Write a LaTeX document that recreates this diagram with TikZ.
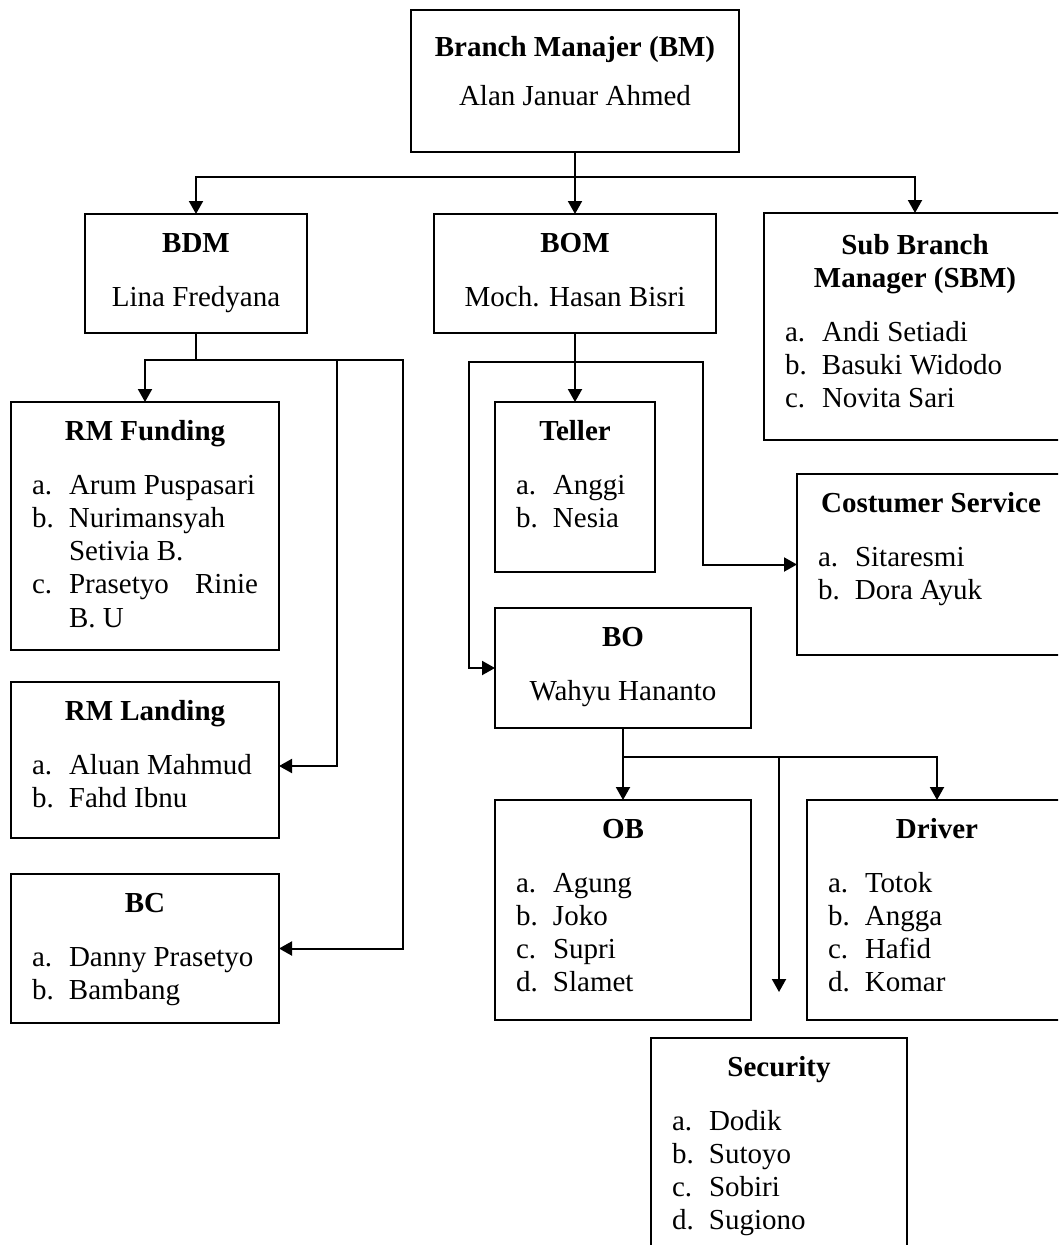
\documentclass[tikz,border=0pt]{standalone}
\usepackage{fontspec}
\setmainfont{Liberation Serif}
\usetikzlibrary{arrows.meta,positioning}

\newcommand{\boxhead}[1]{\makebox[\linewidth]{\bfseries #1}}
\newcommand{\listgap}{\par\vspace{20.7pt}}
\newcommand{\staffrow}[2]{\par\hangindent=37pt\hangafter=1\noindent\makebox[37pt][l]{#1}#2\par}
\tolerance=10000
\hbadness=10000
\hyphenpenalty=10000

\begin{document}
\begin{tikzpicture}[x=1pt,y=-1pt,font=\fontsize{29}{33.3}\selectfont]
  \tikzstyle{unit}=[draw,line width=2pt,inner sep=0pt,outer sep=0pt,anchor=north west]
  \tikzstyle{txt}=[anchor=base,inner sep=0pt,align=justify]
  \tikzstyle{link}=[-{Triangle[length=13pt,width=14pt]},line width=2pt]

  \useasboundingbox (0,0) rectangle (1058,1245);
  \clip (0,0) rectangle (1058,1245);

  % -- Branch manager --
  \node[unit,minimum width=328pt,minimum height=142pt] (bm) at (411,10) {};
  \node[txt,text width=286pt] (bmtxt) at ([yshift=-46pt]bm.north)
    {\boxhead{Branch Manajer (BM)}\par\vspace{15.7pt}\makebox[\linewidth]{Alan Januar Ahmed}};

  % -- Second level: BDM, BOM, SBM --
  \node[unit,minimum width=222pt,minimum height=119pt] (bdm) at (85,214) {};
  \node[txt,text width=180pt] (bdmtxt) at ([yshift=-38pt]bdm.north)
    {\boxhead{BDM}\listgap\makebox[\linewidth]{Lina Fredyana}};
  \node[unit,minimum width=282pt,minimum height=119pt] (bom) at (434,214) {};
  \node[txt,text width=240pt] (bomtxt) at ([yshift=-38pt]bom.north)
    {\boxhead{BOM}\listgap\makebox[\linewidth]{Moch. Hasan Bisri}};
  \node[unit,minimum width=302pt,minimum height=227pt] (sbm) at (764,213) {};
  \node[txt,text width=260pt] (sbmtxt) at ([yshift=-41pt]sbm.north)
    {\boxhead{Sub Branch}\par\boxhead{Manager (SBM)}\listgap
     \staffrow{a.}{Andi Setiadi}\staffrow{b.}{Basuki Widodo}\staffrow{c.}{Novita Sari}};

  % -- Under BDM --
  \node[unit,minimum width=268pt,minimum height=248pt] (rmf) at (11,402) {};
  \node[txt,text width=226pt] (rmftxt) at ([yshift=-38pt]rmf.north)
    {\boxhead{RM Funding}\listgap
     \staffrow{a.}{Arum Puspasari}\staffrow{b.}{Nurimansyah\newline Setivia B.}\staffrow{c.}{Prasetyo Rinie\linebreak B. U}};
  \node[unit,minimum width=268pt,minimum height=156pt] (rml) at (11,682) {};
  \node[txt,text width=226pt] (rmltxt) at ([yshift=-38pt]rml.north)
    {\boxhead{RM Landing}\listgap\staffrow{a.}{Aluan Mahmud}\staffrow{b.}{Fahd Ibnu}};
  \node[unit,minimum width=268pt,minimum height=149pt] (bc) at (11,874) {};
  \node[txt,text width=226pt] (bctxt) at ([yshift=-38pt]bc.north)
    {\boxhead{BC}\listgap\staffrow{a.}{Danny Prasetyo}\staffrow{b.}{Bambang}};

  % -- Under BOM --
  \node[unit,minimum width=160pt,minimum height=170pt] (teller) at (495,402) {};
  \node[txt,text width=118pt] (tellertxt) at ([yshift=-38pt]teller.north)
    {\boxhead{Teller}\listgap\staffrow{a.}{Anggi}\staffrow{b.}{Nesia}};
  \node[unit,minimum width=268pt,minimum height=181pt] (cs) at (797,474) {};
  \node[txt,text width=226pt] (cstxt) at ([yshift=-38pt]cs.north)
    {\boxhead{Costumer Service}\listgap\staffrow{a.}{Sitaresmi}\staffrow{b.}{Dora Ayuk}};
  \node[unit,minimum width=256pt,minimum height=120pt] (bo) at (495,608) {};
  \node[txt,text width=214pt] (botxt) at ([yshift=-38pt]bo.north)
    {\boxhead{BO}\listgap\makebox[\linewidth]{Wahyu Hananto}};

  % -- Under BO --
  \node[unit,minimum width=256pt,minimum height=220pt] (ob) at (495,800) {};
  \node[txt,text width=214pt] (obtxt) at ([yshift=-38pt]ob.north)
    {\boxhead{OB}\listgap\staffrow{a.}{Agung}\staffrow{b.}{Joko}\staffrow{c.}{Supri}\staffrow{d.}{Slamet}};
  \node[unit,minimum width=260pt,minimum height=220pt] (drv) at (807,800) {};
  \node[txt,text width=218pt] (drvtxt) at ([yshift=-38pt]drv.north)
    {\boxhead{Driver}\listgap\staffrow{a.}{Totok}\staffrow{b.}{Angga}\staffrow{c.}{Hafid}\staffrow{d.}{Komar}};
  \node[unit,minimum width=256pt,minimum height=227pt] (sec) at (651,1038) {};
  \node[txt,text width=214pt] (sectxt) at ([yshift=-38pt]sec.north)
    {\boxhead{Security}\listgap\staffrow{a.}{Dodik}\staffrow{b.}{Sutoyo}\staffrow{c.}{Sobiri}\staffrow{d.}{Sugiono}};

  % -- Junctions --
  \coordinate (bmj) at (575,177);
  \coordinate (bdmj) at (196,360);
  \coordinate (rmlj) at (337,360);
  \coordinate (bcj) at (403,360);
  \coordinate (bomj) at (575,362);
  \coordinate (boj) at (469,362);
  \coordinate (csj) at (703,362);
  \coordinate (obj) at (623,757);
  \coordinate (secj) at (779,757);
  \coordinate (secend) at ([yshift=46pt]sec.north);

  % -- Flows --
  \draw[link] (bm.south) -- (bom.north);
  \draw[link] (bmj) -| (bdm.north);
  \draw[link] (bmj) -| (sbm.north);
  \draw[link] (bdm.south) -- (bdmj) -| (rmf.north);
  \draw[link] (bdmj) -- (rmlj) |- ([yshift=-6pt]rml.east);
  \draw[link] (rmlj) -- (bcj) |- (bc.east);
  \draw[link] (bom.south) -- (teller.north);
  \draw[link] (bomj) -- (boj) |- (bo.west);
  \draw[link] (bomj) -- (csj) |- (cs.west);
  \draw[link] (bo.south) -- (ob.north);
  \draw[link] (obj) -| (drv.north);
  \draw[link] (secj) -- (secend);
\end{tikzpicture}
\end{document}
